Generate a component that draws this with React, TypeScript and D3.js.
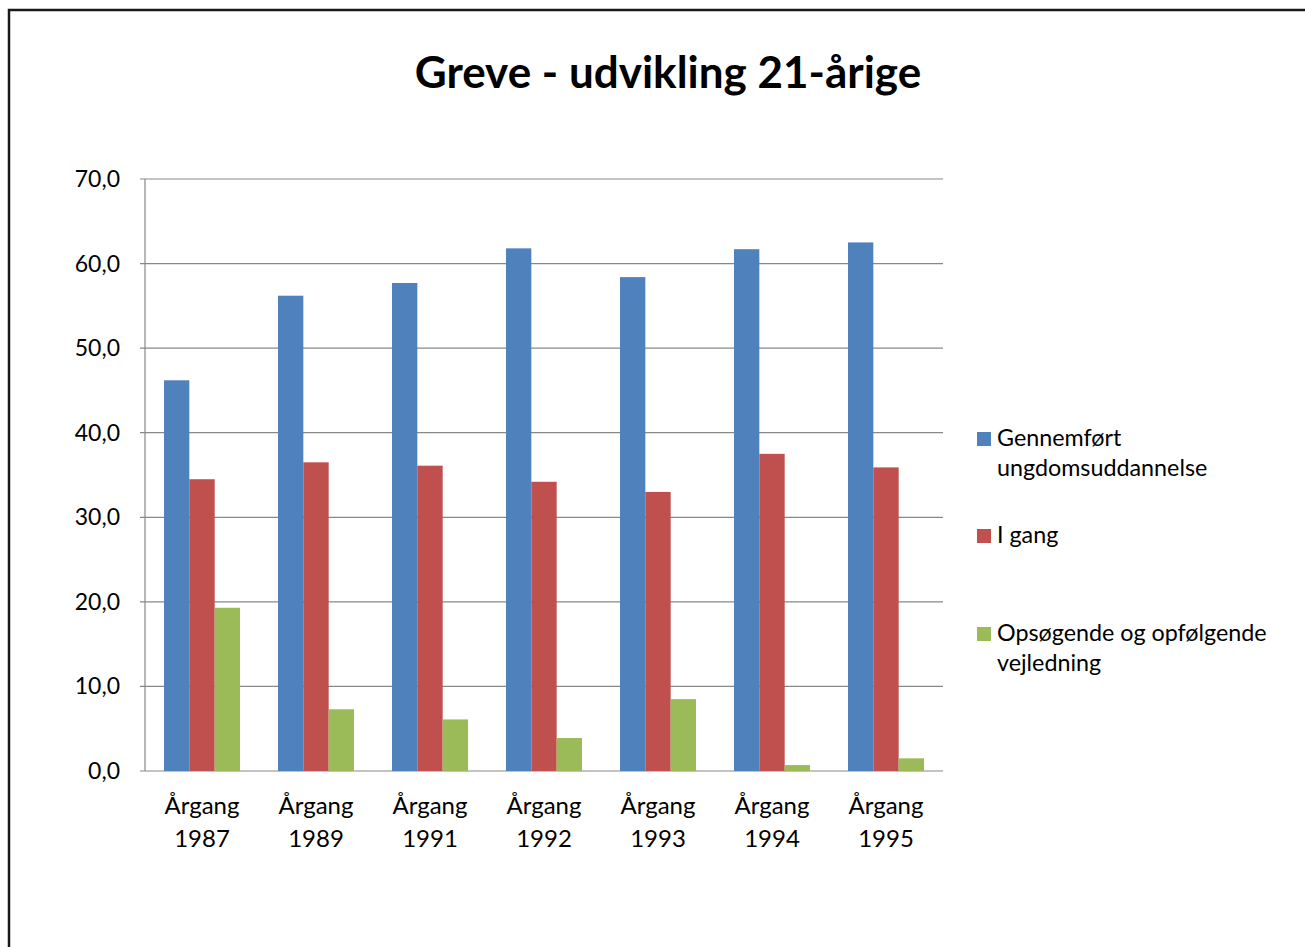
import React, { useRef, useEffect } from 'react'
import * as d3 from 'd3'

// kategorier (årgange)
const categories = ['1987', '1989', '1991', '1992', '1993', '1994', '1995']

const seriesNames = [
  'Gennemført ungdomsuddannelse',
  'I gang',
  'Opsøgende og opfølgende vejledning',
]

// værdier
const gennemfoert = [46.2, 56.2, 57.7, 61.8, 58.4, 61.7, 62.5]
const iGang = [34.5, 36.5, 36.1, 34.2, 33.0, 37.5, 35.9]
const vejledning = [19.3, 7.3, 6.1, 3.9, 8.5, 0.7, 1.5]

const yTicks = [0, 10, 20, 30, 40, 50, 60, 70]

const legendLines = [
  ['Gennemført', 'ungdomsuddannelse'],
  ['I gang'],
  ['Opsøgende og opfølgende', 'vejledning'],
]

const colors = ['#4f81bd', '#c0504d', '#9bbb59']

const W = 1305
const H = 947

const App: React.FC = () => {
  const svgRef = useRef<SVGSVGElement>(null)

  useEffect(() => {
    if (!svgRef.current) return
    const svg = d3.select(svgRef.current)
    svg.selectAll('*').remove()

    const font = 'Lato, "Open Sans", sans-serif'
    const left = 145
    const right = 943
    const top = 179
    const bottom = 771

    // ramme
    svg.append('rect')
      .attr('x', 9).attr('y', 10)
      .attr('width', W + 20).attr('height', H + 20)
      .attr('fill', 'white')
      .attr('stroke', '#1a1a1a')
      .attr('stroke-width', 2.5)

    // titel
    svg.append('text')
      .attr('x', 668).attr('y', 88)
      .attr('text-anchor', 'middle')
      .attr('font-family', font)
      .attr('font-weight', 'bold')
      .attr('font-size', 44)
      .attr('fill', '#000')
      .text('Greve - udvikling 21-årige')

    const y = d3.scaleLinear().domain([0, 70]).range([bottom, top])
    const x0 = d3.scaleBand<string>().domain(categories).range([left, right]).padding(0)
    const x1 = d3.scaleBand<number>()
      .domain([0, 1, 2])
      .range([0, x0.bandwidth()])
      .paddingInner(0)
      .paddingOuter(0.75)

    // gitterlinjer
    const grid = svg.append('g')
    yTicks.forEach(t => {
      grid.append('line')
        .attr('x1', left - 5).attr('x2', right)
        .attr('y1', y(t)).attr('y2', y(t))
        .attr('stroke', '#888')
        .attr('stroke-width', 1.2)
      grid.append('text')
        .attr('x', 120).attr('y', y(t) + 8)
        .attr('text-anchor', 'end')
        .attr('font-family', font)
        .attr('font-size', 23)
        .attr('fill', '#000')
        .text(d3.format('.1f')(t).replace('.', ','))
    })

    // y-akse
    svg.append('line')
      .attr('x1', left).attr('x2', left)
      .attr('y1', top).attr('y2', bottom)
      .attr('stroke', '#888').attr('stroke-width', 1.2)

    const series = [gennemfoert, iGang, vejledning]
    series.forEach((vals, si) => {
      svg.append('g')
        .selectAll('rect')
        .data(vals)
        .enter()
        .append('rect')
        .attr('x', (_, i) => (x0(categories[i]) ?? 0) + (x1(si) ?? 0))
        .attr('y', d => y(d))
        .attr('width', x1.bandwidth())
        .attr('height', d => y(0) - y(d))
        .attr('fill', colors[si])
    })

    // x-aksens etiketter
    categories.forEach(c => {
      const cx = (x0(c) ?? 0) + x0.bandwidth() / 2
      const t = svg.append('text')
        .attr('text-anchor', 'middle')
        .attr('font-family', font)
        .attr('font-size', 24)
        .attr('fill', '#000')
      t.append('tspan').attr('x', cx).attr('y', 814).text('Årgang')
      t.append('tspan').attr('x', cx).attr('y', 847).text(c)
    })

    // legende
    const legendY = [446, 543, 641]
    seriesNames.forEach((name, i) => {
      const g = svg.append('g').attr('class', 'legend-item')
      g.append('rect')
        .attr('x', 977).attr('y', legendY[i] - 14)
        .attr('width', 14).attr('height', 14)
        .attr('fill', colors[i])
      const t = g.append('text')
        .attr('font-family', font)
        .attr('font-size', 23.3)
        .attr('fill', '#000')
      t.append('title').text(name)
      legendLines[i].forEach((line, li) => {
        t.append('tspan').attr('x', 997).attr('y', legendY[i] + li * 30).text(line)
      })
    })
  }, [])

  return (
    <svg
      ref={svgRef}
      width={W}
      height={H}
      style={{ position: 'absolute', left: 0, top: 0, background: 'white' }}
    />
  )
}

export default App
